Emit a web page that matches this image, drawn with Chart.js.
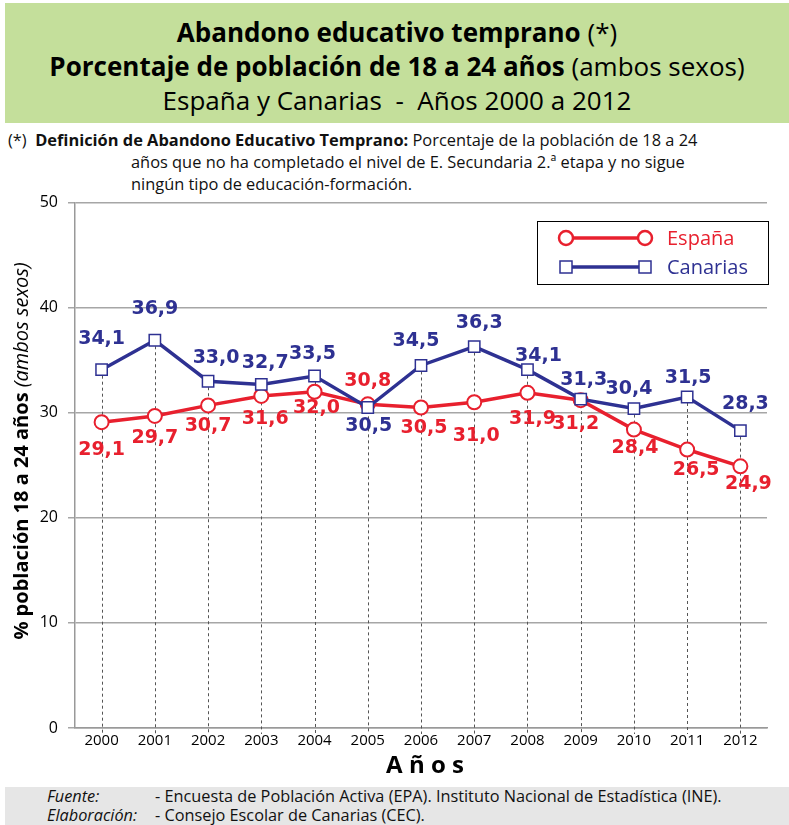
<!DOCTYPE html>
<html>
<head>
<meta charset="utf-8">
<script src="https://cdn.jsdelivr.net/npm/chart.js@4"></script>
<style>
body { margin: 0; width: 789px; height: 825px; position: relative; background: #fff; overflow: hidden; font-family: "Open Sans", sans-serif; }
#head { position: absolute; left: 5px; top: 3px; width: 784px; height: 120px; background: #c4df9b; text-align: center; color: #000; }
#head div { font-size: 26px; line-height: 34px; }
#head .l1 { padding-top: 12px; }
#def { position: absolute; left: 8px; top: 129px; font-size: 16.4px; line-height: 22px; color: #111; }
#def .ind { padding-left: 123px; }
#wrap { position: absolute; left: 0; top: 183px; width: 789px; height: 602px; }
#foot { position: absolute; left: 5px; top: 787px; width: 784px; height: 38px; background: #e6e6e6; font-size: 16.3px; line-height: 19px; color: #111; }
#foot span.k { display: inline-block; width: 108px; font-style: italic; padding-left: 42px; }
</style>
</head>
<body>
<div id="head">
  <div class="l1"><b>Abandono educativo temprano</b> (*)</div>
  <div><b>Porcentaje de población de 18 a 24 años</b> (ambos sexos)</div>
  <div>España y Canarias &nbsp;-&nbsp; Años 2000 a 2012</div>
</div>
<div id="def">
  <div>(*)&nbsp; <b>Definición de Abandono Educativo Temprano:</b> Porcentaje de la población de 18 a 24</div>
  <div class="ind">años que no ha completado el nivel de E. Secundaria 2.ª etapa y no sigue</div>
  <div class="ind">ningún tipo de educación-formación.</div>
</div>
<div id="wrap"><canvas id="myChart" width="789" height="602"></canvas></div>
<div id="foot">
  <div><span class="k">Fuente:</span>- Encuesta de Población Activa (EPA). Instituto Nacional de Estadística (INE).</div>
  <div><span class="k">Elaboración:</span>- Consejo Escolar de Canarias (CEC).</div>
</div>
<script>
var years = ['2000','2001','2002','2003','2004','2005','2006','2007','2008','2009','2010','2011','2012']
var espana = [29.1, 29.7, 30.7, 31.6, 32.0, 30.8, 30.5, 31.0, 31.9, 31.2, 28.4, 26.5, 24.9]
var canarias = [34.1, 36.9, 33.0, 32.7, 33.5, 30.5, 34.5, 36.3, 34.1, 31.3, 30.4, 31.5, 28.3]
var yTicks = [0, 10, 20, 30, 40, 50]

var RED = '#e8202e'
var BLUE = '#2e3192'

// label nudges (px) relative to each point
var espanaLabelDy = [28, 22, 21, 23, 16, -23, 21, 34, 26, 24, 18, 21, 18]
var espanaLabelDx = [0, 0, 0, 4, 2, 0, 3, 2, 5, -5, 1, 9, 8]
var canariasLabelDy = [-31, -31, -23, -21, -22, 19, -24, -23, -14, -19, -19, -19, -27]
var canariasLabelDx = [0, 0, 8, 4, -2, 1, -5, 5, 11, 3, -5, 1, 5]

function drawChart(){
var extras = {
    id: 'extras',
    beforeDatasetsDraw: function(chart){
        var c = chart.ctx, x = chart.scales.x, y = chart.scales.y
        c.save()
        c.strokeStyle = '#555'
        c.lineWidth = 1
        c.setLineDash([3, 3])
        for (var i = 0; i < years.length; i++) {
            var px = Math.round(x.getPixelForValue(i)) + 0.5
            c.beginPath()
            c.moveTo(px, y.getPixelForValue(Math.max(espana[i], canarias[i])))
            c.lineTo(px, y.getPixelForValue(0) + 6)
            c.stroke()
        }
        c.restore()
    },
    afterDatasetsDraw: function(chart){
        var c = chart.ctx, x = chart.scales.x, y = chart.scales.y
        c.save()
        c.font = 'bold 19px "DejaVu Sans"'
        c.textAlign = 'center'
        c.textBaseline = 'middle'
        for (var i = 0; i < years.length; i++) {
            var px = x.getPixelForValue(i)
            c.fillStyle = BLUE
            c.fillText(canarias[i].toFixed(1).replace('.', ','), px + canariasLabelDx[i], y.getPixelForValue(canarias[i]) + canariasLabelDy[i])
            c.fillStyle = RED
            c.fillText(espana[i].toFixed(1).replace('.', ','), px + espanaLabelDx[i], y.getPixelForValue(espana[i]) + espanaLabelDy[i])
        }
        // legend box
        c.strokeStyle = '#000'
        c.lineWidth = 1
        c.setLineDash([])
        c.strokeRect(537.5, 38.5, 231, 63)
        c.lineWidth = 3.5
        c.strokeStyle = RED
        c.beginPath(); c.moveTo(566, 55); c.lineTo(643, 55); c.stroke()
        c.lineWidth = 2.5
        c.fillStyle = '#fff'
        ;[566, 645].forEach(function(cx){ c.beginPath(); c.arc(cx, 55, 7, 0, Math.PI * 2); c.fill(); c.stroke() })
        c.lineWidth = 3.5
        c.strokeStyle = BLUE
        c.beginPath(); c.moveTo(566, 84); c.lineTo(645, 84); c.stroke()
        c.lineWidth = 1.5
        ;[566, 645].forEach(function(cx){ c.fillRect(cx - 6, 78, 12, 12); c.strokeRect(cx - 6, 78, 12, 12) })
        c.font = '20px "Open Sans"'
        c.textAlign = 'left'
        c.fillStyle = RED
        c.fillText('España', 667, 56)
        c.fillStyle = BLUE
        c.fillText('Canarias', 667, 85)
        // axis titles
        c.fillStyle = '#000'
        c.font = 'bold 24px "Open Sans"'
        c.textAlign = 'center'
        c.fillText('A ñ o s', 425, 583)
        c.translate(22, 268)
        c.rotate(-Math.PI / 2)
        c.textAlign = 'left'
        var t1 = '% población 18 a 24 años '
        c.font = 'bold 20px "Open Sans"'
        var w1 = c.measureText(t1).width
        c.font = 'italic 20px "Open Sans"'
        var t2 = '(ambos sexos)'
        var w2 = c.measureText(t2).width
        var start = -(w1 + w2) / 2
        c.font = 'bold 20px "Open Sans"'
        c.fillText(t1, start, 0)
        c.font = 'italic 20px "Open Sans"'
        c.fillText(t2, start + w1, 0)
        c.restore()
    }
}

var ctx = document.getElementById('myChart').getContext('2d')
var myChart = new Chart(ctx, {
    type: 'line',
    data: {
        labels: years,
        datasets: [{
            label: 'Canarias',
            data: canarias,
            borderColor: BLUE,
            borderWidth: 3.5,
            backgroundColor: '#fff',
            pointStyle: 'rect',
            pointRadius: 8,
            pointBorderWidth: 1.5,
            pointBackgroundColor: '#fff',
            tension: 0
        }, {
            label: 'España',
            data: espana,
            borderColor: RED,
            borderWidth: 3.5,
            backgroundColor: '#fff',
            pointStyle: 'circle',
            pointRadius: 7,
            pointBorderWidth: 2,
            pointBackgroundColor: '#fff',
            tension: 0
        }]
    },
    options: {
        responsive: false,
        animation: false,
        layout: { padding: { top: 6, right: 22, left: 0, bottom: 0 } },
        plugins: { legend: { display: false }, tooltip: { enabled: false } },
        scales: {
            x: {
                offset: true,
                afterFit: function(s){ s.height = 57 },
                grid: { display: false, drawTicks: false },
                border: { color: '#999', width: 1.5 },
                ticks: { color: '#000', font: { family: 'Open Sans', size: 15 }, padding: 4, maxRotation: 0 }
            },
            y: {
                min: 0,
                max: 50,
                afterFit: function(s){ s.width = 75 },
                afterBuildTicks: function(s){ s.ticks = yTicks.map(function(v){ return { value: v } }) },
                grid: { color: '#a6a6a6', lineWidth: 1.5, tickLength: 7 },
                border: { color: '#999', width: 1.5 },
                ticks: { color: '#000', font: { family: 'Open Sans', size: 16 }, padding: 10 }
            }
        }
    },
    plugins: [extras]
});
}

document.addEventListener('DOMContentLoaded', drawChart);
</script>
</body>
</html>
